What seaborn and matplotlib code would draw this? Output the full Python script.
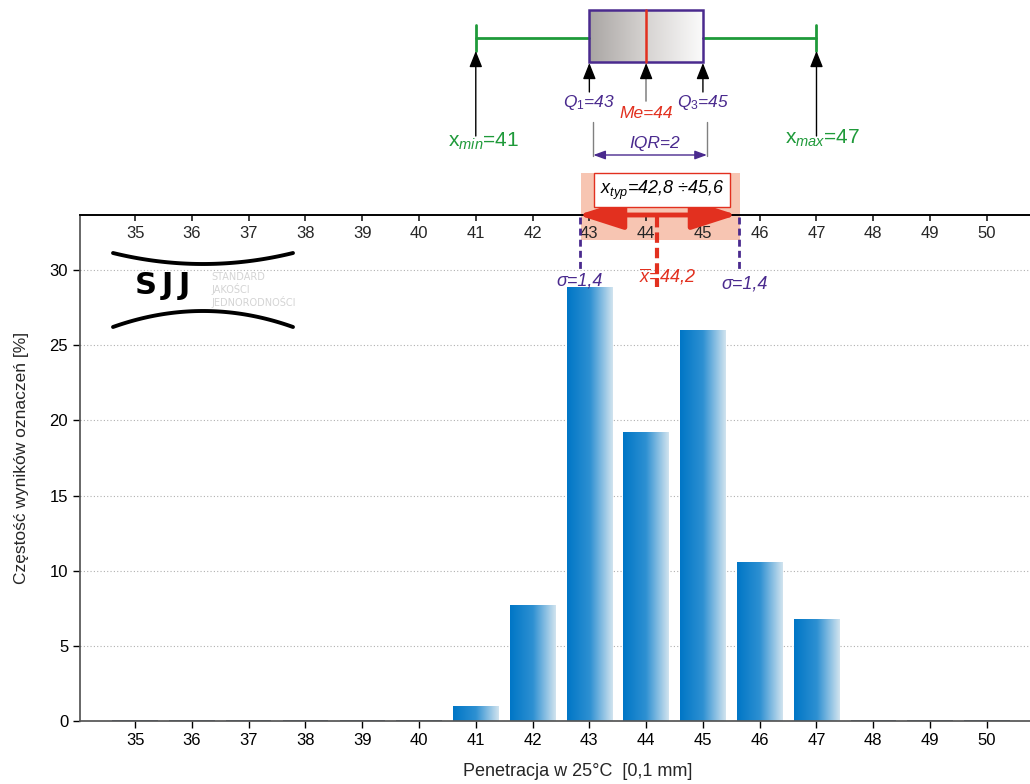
import numpy as np
import pandas as pd
import matplotlib
matplotlib.use("Agg")
import matplotlib.pyplot as plt
from matplotlib import font_manager
import seaborn as sns
from matplotlib.colors import LinearSegmentedColormap
from matplotlib.patches import Rectangle

# histogram penetracji (udzial wynikow w %)
penetracja = [35, 36, 37, 38, 39, 40, 41, 42, 43, 44, 45, 46, 47, 48, 49, 50]
czestosc = [0, 0, 0, 0, 0, 0, 0.96, 7.69, 28.85, 19.23, 25.96, 10.58, 6.73, 0, 0, 0]

# statystyki do wykresu pudelkowego
x_min, q1, mediana, q3, x_max = 41, 43, 44, 45, 47
iqr = 2
srednia = 44.2
sigma = 1.4
x_typ_lo, x_typ_hi = 42.8, 45.6

y_ticks = [0, 5, 10, 15, 20, 25, 30]

PURPLE = "#4a2a8e"
GREEN = "#1f9a3a"
RED = "#e2301f"

sns.set_theme(style="white")
installed = {f.name for f in font_manager.fontManager.ttflist}
narrow = "Liberation Sans Narrow" in installed
base_font = "Liberation Sans Narrow" if narrow else "Liberation Sans"
plt.rcParams["font.family"] = [base_font, "DejaVu Sans"]
plt.rcParams["mathtext.fontset"] = "custom"
plt.rcParams["mathtext.it"] = base_font + ":italic"
plt.rcParams["mathtext.rm"] = base_font
fs_tick = 13 if narrow else 12
fs_txt = 14 if narrow else 12.5

fig = plt.figure(figsize=(10.3, 7.84), dpi=100, facecolor="white")
W, H = 1030, 784
xlim = (34.03, 50.76)

# --- glowny wykres slupkowy ---
ax = fig.add_axes([80 / W, 63 / H, 950 / W, 506 / H], facecolor="none", zorder=1)
df = pd.DataFrame({"pen": penetracja, "pct": czestosc})
sns.barplot(data=df, x="pen", y="pct", native_scale=True, color="#0079cc",
            width=0.8, errorbar=None, ax=ax)

bar_cmap = LinearSegmentedColormap.from_list("bars", ["#0076c6", "#2e90d2", "#d2e4ef"])
grad = np.linspace(0, 1, 256).reshape(1, -1)
for p in ax.patches:
    x0, w, h = p.get_x(), p.get_width(), p.get_height()
    if h > 0:
        ax.imshow(grad, extent=[x0, x0 + w, 0, h], aspect="auto", cmap=bar_cmap,
                  zorder=2, interpolation="bicubic")
        p.set_visible(False)
    else:
        p.set_facecolor("none")
        p.set_edgecolor("#3a5573")
        p.set_linewidth(1.2)

ax.set_xlim(*xlim)
ax.set_ylim(0, 33.67)
ax.set_xticks(penetracja)
ax.set_yticks(y_ticks)
ax.tick_params(axis="both", which="major", direction="out", length=5, width=1,
               colors="black", labelsize=fs_tick, bottom=True, left=True)
ax.yaxis.grid(True, linestyle=(0, (1, 2)), color="#b0b0b0", linewidth=0.8)
ax.set_axisbelow(True)
for s in ["left", "bottom"]:
    ax.spines[s].set_color("#555555")
ax.spines["top"].set_color("black")
ax.spines["right"].set_visible(False)

secax = ax.secondary_xaxis("top")
secax.set_xticks(penetracja)
secax.tick_params(direction="in", length=4, pad=-19, labelsize=fs_tick)

ax.set_xlabel("Penetracja w 25°C  [0,1 mm]", fontsize=fs_txt + 0.5)
ax.xaxis.set_label_coords(0.524, -0.083)
ax.set_ylabel("Częstość wyników oznaczeń [%]", fontsize=fs_txt)
ax.yaxis.set_label_coords(-0.054, 0.52)

# --- nakladki w pikselach (os y odwrocona) ---
back = fig.add_axes([80 / W, 0, 950 / W, 1], facecolor="none", zorder=0)
front = fig.add_axes([80 / W, 0, 950 / W, 1], facecolor="none", zorder=2)
for a in (back, front):
    a.set_xlim(*xlim)
    a.set_ylim(H, 0)
    a.axis("off")

back.add_patch(Rectangle((x_typ_lo + 0.05, 173), x_typ_hi - x_typ_lo, 67,
                         facecolor="#f7c5b2", edgecolor="none"))

# wykres pudelkowy
front.plot([x_min, q1], [38, 38], color=GREEN, lw=2)
front.plot([q3, x_max], [38, 38], color=GREEN, lw=2)
for v in (x_min, x_max):
    front.plot([v, v], [25, 51], color=GREEN, lw=2)
box_cmap = LinearSegmentedColormap.from_list("box", ["#a9a5a3", "#d6d3d1", "#fbfbfb"])
front.imshow(grad, extent=[q1, q3, 62, 10], aspect="auto", cmap=box_cmap,
             interpolation="bicubic", zorder=1)
front.add_patch(Rectangle((q1, 10), q3 - q1, 52, facecolor="none",
                          edgecolor=PURPLE, lw=1.8, zorder=3))
front.plot([mediana, mediana], [10, 62], color=RED, lw=1.8, zorder=4)
front.set_xlim(*xlim)
front.set_ylim(H, 0)

up = dict(arrowstyle="-|>,head_length=0.7,head_width=0.28", color="black", lw=1,
          mutation_scale=14, shrinkA=0, shrinkB=0)
for v, yb, yt in [(x_min, 136, 51), (x_max, 136, 51), (q1, 92, 63), (q3, 92, 63)]:
    front.annotate("", xy=(v, yt), xytext=(v, yb), arrowprops=up)
front.plot([mediana, mediana], [72, 101], color="#8a8a8a", lw=1.2)
front.annotate("", xy=(mediana, 63), xytext=(mediana, 74), arrowprops=up)

front.text(q1, 102, r"$\mathit{Q}_{\mathit{1}}$=%d" % q1, color=PURPLE, fontsize=fs_txt,
           style="italic", ha="center", va="center")
front.text(q3, 102, r"$\mathit{Q}_{\mathit{3}}$=%d" % q3, color=PURPLE, fontsize=fs_txt,
           style="italic", ha="center", va="center")
front.text(mediana, 113, "Me=%d" % mediana, color=RED, fontsize=fs_txt, style="italic",
           ha="center", va="center")
front.text(x_min + 0.14, 141, r"$\mathrm{x}_{\mathit{min}}$=%d" % x_min, color=GREEN,
           fontsize=fs_txt + 2.5, ha="center", va="center")
front.text(x_max + 0.1, 138, r"$\mathrm{x}_{\mathit{max}}$=%d" % x_max, color=GREEN,
           fontsize=fs_txt + 2.5, ha="center", va="center")

for v in (q1, q3):
    front.plot([v + 0.07, v + 0.07], [122, 156], color="#808080", lw=1)
front.annotate("", xy=(q1 + 0.07, 155), xytext=(q3 + 0.07, 155),
               arrowprops=dict(arrowstyle="<|-|>,head_length=0.6,head_width=0.22",
                               color=PURPLE, lw=1, mutation_scale=12,
                               shrinkA=0, shrinkB=0))
front.text((q1 + q3) / 2 + 0.15, 143, "IQR=%d" % iqr, color=PURPLE, fontsize=fs_txt,
           style="italic", ha="center", va="center")

# zakres typowy
front.annotate("", xy=(x_typ_lo, 215), xytext=(x_typ_hi, 215),
               arrowprops=dict(arrowstyle="<|-|>,head_length=1.4,head_width=0.45",
                               color=RED, lw=3.5, mutation_scale=20,
                               shrinkA=0, shrinkB=0))
front.text(44.28, 190, r"$\mathit{x}_{\mathit{typ}}$=42,8 ÷45,6", color="black",
           fontsize=fs_txt + 0.5, style="italic", ha="center", va="center",
           bbox=dict(boxstyle="square,pad=0.3", fc="white", ec=RED, lw=1))
for v in (x_typ_lo, x_typ_hi):
    front.plot([v + 0.03, v + 0.03], [217, 270], color=PURPLE, lw=2, ls=(0, (2.5, 1.5)))
front.plot([srednia, srednia], [217, 287], color=RED, lw=3, ls=(0, (2.5, 1.2)))
front.text(x_typ_lo + 0.02, 281, "σ=1,4", color=PURPLE, fontsize=fs_txt + 0.5,
           style="italic", ha="center", va="center")
front.text(x_typ_hi + 0.14, 284, "σ=1,4", color=PURPLE, fontsize=fs_txt + 0.5,
           style="italic", ha="center", va="center")
front.text(srednia + 0.18, 277, r"$\overline{x}$=44,2", color=RED, fontsize=fs_txt + 0.5,
           style="italic", ha="center", va="center")

# logo SJJ
lax = fig.add_axes([108 / W, (H - 332) / H, 190 / W, 84 / H], facecolor="none", zorder=3)
lax.set_xlim(0, 190)
lax.set_ylim(84, 0)
lax.axis("off")
t = np.linspace(-1, 1, 60)
lax.plot(95 + 90 * t, 16 - 11 * t ** 2, color="black", lw=2.8, solid_capstyle="round")
lax.plot(95 + 90 * t, 63 + 16 * t ** 2, color="black", lw=2.8, solid_capstyle="round")
for ch, xc in zip("SJJ", [38, 59, 76]):
    lax.text(xc, 38, ch, fontsize=22, fontweight="bold", family="DejaVu Sans",
             ha="center", va="center", color="black")
lax.text(103, 42, "STANDARD\nJAKOŚCI\nJEDNORODNOŚCI", fontsize=7, color="#d4d4d4",
         family="DejaVu Sans", ha="left", va="center", linespacing=1.15)

fig.savefig("out.png", dpi=100, facecolor="white")
